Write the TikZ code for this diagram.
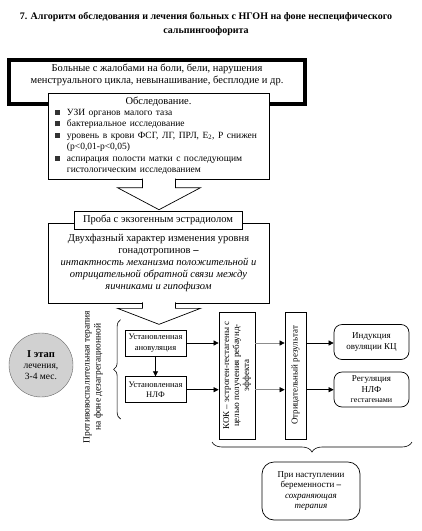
\documentclass[tikz,border=0pt]{standalone}
\usepackage{fontspec}
\setmainfont{Liberation Serif}
\usepackage{xcolor}
\usetikzlibrary{positioning, arrows.meta, decorations.pathreplacing}
\newcommand{\sqbul}{\textcolor{black!80}{\rule[0.3pt]{5pt}{5pt}}}

\begin{document}
\begin{tikzpicture}[x=1pt, y=1pt,
        font=\fontsize{10.5}{12}\selectfont, >=Triangle,
        box/.style={draw, line width=0.7pt, fill=white, align=center, inner sep=2pt},
        frame/.style={draw, line width=4pt, minimum width=296pt, minimum height=44pt},
        rbox/.style={box, rounded corners=8pt},
        smalltxt/.style={font=\fontsize{9}{10.5}\selectfont},
        vtxt/.style={rotate=90, font=\fontsize{9}{10}\selectfont},
        hollow/.style={draw, fill=white, line width=0.7pt},
        arr/.style={-{Triangle[length=5pt, width=5pt]}, line width=0.6pt},
        garr/.style={arr, draw=black!45, -{Triangle[length=5pt, width=5pt, black]}},
        curly/.style={decorate, decoration={brace, amplitude=#1}, line width=0.6pt}]
        \useasboundingbox (0,0) rectangle (422,-531);
        \node[font=\bfseries\fontsize{10}{14}\selectfont, align=center] (title) at (206,-24)
              {7. Алгоритм обследования и лечения больных с НГОН на фоне неспецифического\\сальпингоофорита};
        \node[frame] (outer) at (157,-82) {};
        \node[align=center] (complaints) at (157,-75) {Больные с жалобами на боли, бели, нарушения\\
              менструального цикла, невынашивание, бесплодие и др.};
        \node[box, text width=215pt, minimum height=86pt, anchor=north, inner sep=3pt] (exam) at (158.5,-93)
              {Обследование.\\
               {\fontsize{9.5}{11.5}\selectfont
               \begin{tabular}{@{}p{12pt}@{}p{195pt}@{}}
                 \sqbul & УЗИ органов малого таза\\
                 \sqbul & бактериальное исследование\\
                 \sqbul & уровень в крови ФСГ, ЛГ, ПРЛ, E\textsubscript{2}, P снижен\newline (p<0,01-p<0,05)\\
                 \sqbul & аспирация полости матки с последующим\newline гистологическим исследованием
               \end{tabular}}};
        \node[box, minimum width=221pt, minimum height=80pt] (phase) at (158.5,-263)
              {Двухфазный характер изменения уровня\\гонадотропинов \textbf{--}\\
               \textit{интактность механизма положительной и}\\
               \textit{отрицательной обратной связи между}\\
               \textit{яичниками и гипофизом}};
        \node[box, minimum width=168pt, minimum height=18pt] (proba) at (158,-220) {Проба с экзогенным эстрадиолом};
        % block arrows
        \filldraw[hollow] ([xshift=-16pt, yshift=1pt]exam.south) -- ++(0,-9) -- ++(-25,0) -- ++(41.5,-22)
              -- ++(41.5,22) -- ++(-25,0) -- ++(0,9);
        \filldraw[hollow] ([xshift=-16pt, yshift=1pt]phase.south) -- ++(0,-6) -- ++(-25,0) -- ++(41.5,-16)
              -- ++(41.5,16) -- ++(-25,0) -- ++(0,6);
        % first stage
        \node[circle, draw=black!60, fill=black!18, minimum size=64pt, inner sep=0pt, align=center,
              font=\fontsize{9.5}{11}\selectfont] (stage) at (41,-365)
              {{\fontsize{10.5}{11}\selectfont\textbf{I этап}}\\лечения,\\3-4 мес.};
        \node[vtxt, align=center, font=\fontsize{9.5}{11}\selectfont] (therapy) at (93,-377)
              {Противовоспалительная терапия\\на фоне дезагрегационной};
        \node[box, font=\fontsize{8.5}{10.5}\selectfont, minimum width=61pt, minimum height=26pt, inner sep=1pt]
              (anov) at (155.5,-343) {Установленная\\ановуляция};
        \node[box, font=\fontsize{8.5}{10.5}\selectfont, minimum width=61pt, minimum height=26pt, inner sep=1pt,
              below=20pt of anov] (nlf) {Установленная\\НЛФ};
        \draw[curly=7] ([xshift=-4pt, yshift=-16pt]nlf.south west) -- ([xshift=-4pt, yshift=10pt]anov.north west);
        \node[box, vtxt, minimum width=127pt, minimum height=36pt] (kok) at (237,-375.5)
              {КОК -- эстроген-гестагены с\\целью получения ребаунд-\\эффекта};
        \node[box, vtxt, minimum width=127pt, minimum height=21pt, inner sep=1pt] (neg) at (295.5,-375.5)
              {Отрицательный результат};
        \node[rbox, smalltxt, minimum width=75pt, minimum height=35pt] (ind) at (371.5,-342) {Индукция\\овуляции КЦ};
        \node[rbox, smalltxt, minimum width=75pt, minimum height=35pt, inner sep=1pt] (reg) at (371.5,-389.5)
              {Регуляция\\НЛФ\\{\fontsize{8}{9}\selectfont гестагенами}};
        \draw[arr] (anov) -- (nlf);
        \draw[arr] (anov.east) -- (anov.east -| kok.north); \draw[arr] (nlf.east) -- (nlf.east -| kok.north);
        \draw[garr] (anov -| kok.south) -- (anov -| neg.north); \draw[garr] (nlf -| kok.south) -- (nlf -| neg.north);
        \draw[arr] (anov -| neg.south) -- (anov -| ind.west); \draw[arr] (nlf -| neg.south) -- (nlf -| reg.west);
        % pregnancy
        \draw[curly=10] (412,-442) -- (212,-442);
        \node[rbox, smalltxt, rounded corners=12pt, minimum width=98pt, minimum height=58pt] (preg) at (311,-491)
              {При наступлении\\беременности \textbf{--}\\\textit{сохраняющая}\\\textit{терапия}};
      \end{tikzpicture}
\end{document}
